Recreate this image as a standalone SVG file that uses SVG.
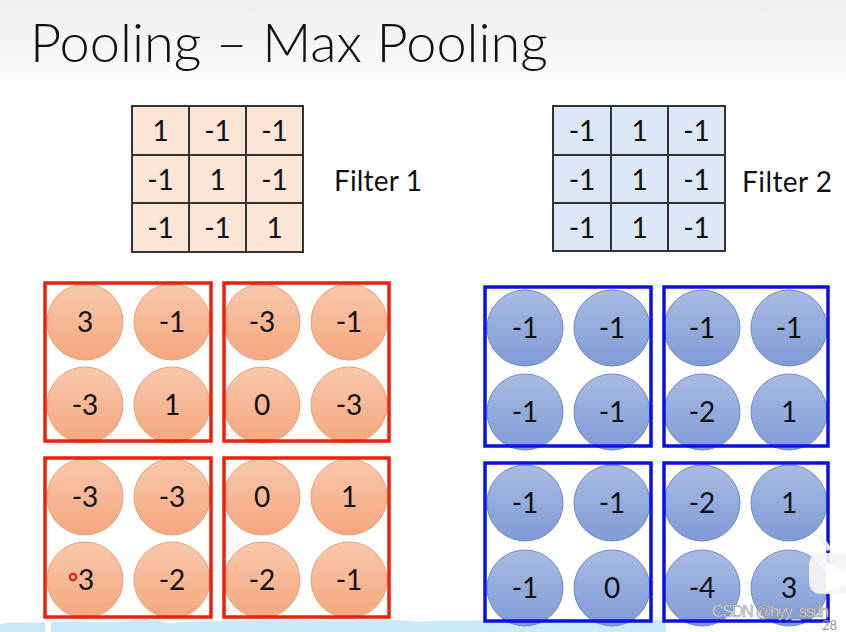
<svg xmlns="http://www.w3.org/2000/svg" width="846" height="632" viewBox="0 0 846 632">
<defs>
<linearGradient id="bg" x1="0" y1="0" x2="0" y2="1">
<stop offset="0" stop-color="#eeeeee"/><stop offset="1" stop-color="#ffffff"/>
</linearGradient>
<linearGradient id="og" x1="0" y1="0" x2="0" y2="1">
<stop offset="0" stop-color="#f8c8ab"/><stop offset="1" stop-color="#f5a77e"/>
</linearGradient>
<linearGradient id="bgr" x1="0" y1="0" x2="0" y2="1">
<stop offset="0" stop-color="#a9bbe2"/><stop offset="1" stop-color="#7f9bd6"/>
</linearGradient>
<style>
text{font-family:Lato,"Open Sans","Liberation Sans",sans-serif;fill:#111;}
.t{font-size:28px;text-anchor:middle;}
.c1{fill:#fbe5d6;stroke:#333;stroke-width:2;}
.c2{fill:#dce8f5;stroke:#333;stroke-width:2;}
.oc{fill:url(#og);stroke:#e7a07a;stroke-width:1;}
.bc{fill:url(#bgr);stroke:#6f88c6;stroke-width:1;}
.rb{fill:none;stroke:#f01e0a;stroke-width:3.5;}
.bb{fill:none;stroke:#0a10e8;stroke-width:3.5;}
</style>
</defs>
<rect x="0" y="0" width="846" height="100" fill="url(#bg)"/>
<rect x="0" y="100" width="846" height="532" fill="#fff"/>
<text x="30" y="62" font-size="54" font-weight="300" textLength="518" lengthAdjust="spacingAndGlyphs">Pooling – Max Pooling</text>

<g id="filter1">
<rect class="c1" x="132" y="106" width="171" height="146"/>
<path d="M189 106V252M246 106V252M132 155H303M132 203H303" stroke="#333" stroke-width="2"/>
<text class="t" x="160.5" y="141">1</text><text class="t" x="217.5" y="141">-1</text><text class="t" x="274.5" y="141">-1</text>
<text class="t" x="160.5" y="190">-1</text><text class="t" x="217.5" y="190">1</text><text class="t" x="274.5" y="190">-1</text>
<text class="t" x="160.5" y="238">-1</text><text class="t" x="217.5" y="238">-1</text><text class="t" x="274.5" y="238">1</text>
<text x="334" y="191" font-size="28" textLength="88">Filter 1</text>
</g>

<g id="filter2">
<rect class="c2" x="553" y="106" width="172" height="145"/>
<path d="M611 106V251M668 106V251M553 155H725M553 203H725" stroke="#333" stroke-width="2"/>
<text class="t" x="582" y="141">-1</text><text class="t" x="639.5" y="141">1</text><text class="t" x="696.5" y="141">-1</text>
<text class="t" x="582" y="190">-1</text><text class="t" x="639.5" y="190">1</text><text class="t" x="696.5" y="190">-1</text>
<text class="t" x="582" y="238">-1</text><text class="t" x="639.5" y="238">1</text><text class="t" x="696.5" y="238">-1</text>
<text x="742" y="192" font-size="28" textLength="90">Filter 2</text>
</g>

<g id="decor-band">
<path d="M0 632V624C15 621 30 624 45 622V632ZM51 632V622C80 620 100 623 130 621C140 617 150 620 170 623C200 620 240 622 280 620C300 618 320 622 350 621C380 618 400 620 420 622C450 619 470 622 500 619C530 617 560 620 600 619C630 620 650 621 666 620V632Z" fill="#cbeaf7"/>
</g>

<g id="red-top-left">
<circle class="oc" cx="85" cy="322" r="38"/><circle class="oc" cx="172" cy="322" r="38"/>
<circle class="oc" cx="85" cy="405" r="38"/><circle class="oc" cx="172" cy="405" r="38"/>
<text class="t" x="85" y="332">3</text><text class="t" x="172" y="332">-1</text>
<text class="t" x="85" y="415">-3</text><text class="t" x="172" y="415">1</text>
<rect class="rb" x="45" y="283" width="166" height="158"/>
</g>
<g id="red-top-right">
<circle class="oc" cx="262" cy="322" r="38"/><circle class="oc" cx="349" cy="322" r="38"/>
<circle class="oc" cx="262" cy="405" r="38"/><circle class="oc" cx="349" cy="405" r="38"/>
<text class="t" x="262" y="332">-3</text><text class="t" x="349" y="332">-1</text>
<text class="t" x="262" y="415">0</text><text class="t" x="349" y="415">-3</text>
<rect class="rb" x="224" y="283" width="165" height="158"/>
</g>
<g id="red-bottom-left">
<circle class="oc" cx="85" cy="497" r="38"/><circle class="oc" cx="172" cy="497" r="38"/>
<circle class="oc" cx="85" cy="580" r="38"/><circle class="oc" cx="172" cy="580" r="38"/>
<text class="t" x="85" y="507">-3</text><text class="t" x="172" y="507">-3</text>
<text class="t" x="86" y="590">3</text><text class="t" x="172" y="590">-2</text>
<circle cx="73" cy="577" r="3.2" fill="none" stroke="#e8101a" stroke-width="2"/>
<rect class="rb" x="45" y="458" width="166" height="159"/>
</g>
<g id="red-bottom-right">
<circle class="oc" cx="262" cy="497" r="38"/><circle class="oc" cx="349" cy="497" r="38"/>
<circle class="oc" cx="262" cy="580" r="38"/><circle class="oc" cx="349" cy="580" r="38"/>
<text class="t" x="262" y="507">0</text><text class="t" x="349" y="507">1</text>
<text class="t" x="262" y="590">-2</text><text class="t" x="349" y="590">-1</text>
<rect class="rb" x="224" y="458" width="165" height="159"/>
</g>

<g id="blue-top-left">
<circle class="bc" cx="525" cy="328" r="38"/><circle class="bc" cx="612" cy="328" r="38"/>
<circle class="bc" cx="525" cy="412" r="38"/><circle class="bc" cx="612" cy="412" r="38"/>
<text class="t" x="525" y="338">-1</text><text class="t" x="612" y="338">-1</text>
<text class="t" x="525" y="422">-1</text><text class="t" x="612" y="422">-1</text>
<rect class="bb" x="485" y="287" width="166" height="159"/>
</g>
<g id="blue-top-right">
<circle class="bc" cx="702" cy="328" r="38"/><circle class="bc" cx="789" cy="328" r="38"/>
<circle class="bc" cx="702" cy="412" r="38"/><circle class="bc" cx="789" cy="412" r="38"/>
<text class="t" x="702" y="338">-1</text><text class="t" x="789" y="338">-1</text>
<text class="t" x="702" y="422">-2</text><text class="t" x="789" y="422">1</text>
<rect class="bb" x="664" y="287" width="164" height="159"/>
</g>
<g id="blue-bottom-left">
<circle class="bc" cx="525" cy="503" r="38"/><circle class="bc" cx="612" cy="503" r="38"/>
<circle class="bc" cx="525" cy="588" r="38"/><circle class="bc" cx="612" cy="588" r="38"/>
<text class="t" x="525" y="513">-1</text><text class="t" x="612" y="513">-1</text>
<text class="t" x="525" y="598">-1</text><text class="t" x="612" y="598">0</text>
<rect class="bb" x="485" y="463" width="166" height="158"/>
</g>
<g id="blue-bottom-right">
<circle class="bc" cx="702" cy="503" r="38"/><circle class="bc" cx="789" cy="503" r="38"/>
<circle class="bc" cx="702" cy="588" r="38"/><circle class="bc" cx="789" cy="588" r="38"/>
<text class="t" x="702" y="513">-2</text><text class="t" x="789" y="513">1</text>
<text class="t" x="702" y="598">-4</text><text class="t" x="789" y="598">3</text>
<rect class="bb" x="664" y="463" width="164" height="158"/>
</g>

<g id="overlay">
<path d="M822 553Q809 553 809 566V580Q809 594 822 594H846V553Z" fill="#f4f4f4" opacity="0.92"/>
<path d="M820 536L828 548" stroke="#f4f4f4" stroke-width="5" stroke-linecap="round" opacity="0.92"/>
<path d="M826 562L846 573V584L826 592Z" fill="#fff"/>
<text x="712" y="617" textLength="117" style="font-family:'Liberation Sans',sans-serif;font-size:16px;fill:#ececec;stroke:#8a8a8a;stroke-width:0.5">CSDN @hyy_ssdh</text>
<text x="822" y="630" style="font-size:13px;fill:#9a9a9a">28</text>
</g>
</svg>
